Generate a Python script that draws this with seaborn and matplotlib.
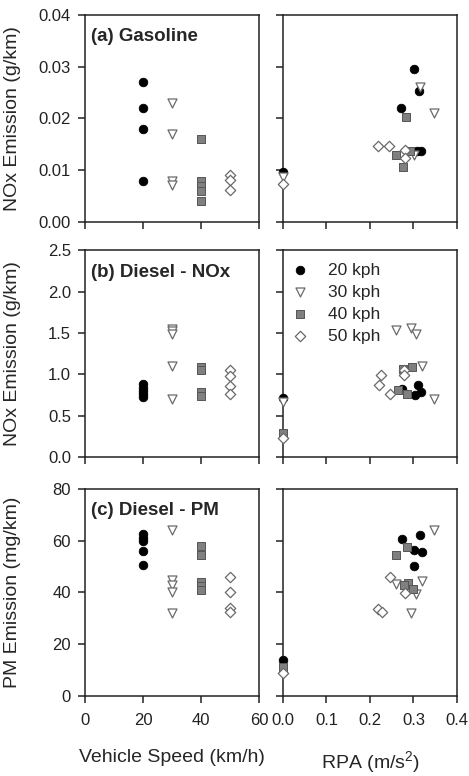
import matplotlib
matplotlib.use("Agg")
import matplotlib.pyplot as plt
import seaborn as sns

# ---- data ----
speeds = [20, 30, 40, 50]
labels = ["20 kph", "30 kph", "40 kph", "50 kph"]

# (a) gasoline NOx (g/km) vs vehicle speed
gas_20 = [0.027, 0.022, 0.018, 0.008]
gas_30 = [0.023, 0.017, 0.008, 0.0071]
gas_40 = [0.016, 0.008, 0.007, 0.006, 0.004]
gas_50 = [0.0091, 0.0081, 0.0062]

# (a) gasoline NOx vs RPA
gas_rpa_20 = [0.0, 0.271, 0.301, 0.313, 0.307, 0.317]
gas_nox_20 = [0.0097, 0.022, 0.0295, 0.0253, 0.0138, 0.0138]
gas_rpa_30 = [0.0, 0.315, 0.346, 0.302]
gas_nox_30 = [0.0087, 0.026, 0.021, 0.013]
gas_rpa_40 = [0.282, 0.26, 0.275, 0.292]
gas_nox_40 = [0.0203, 0.013, 0.0106, 0.0138]
gas_rpa_50 = [0.0, 0.219, 0.244, 0.28, 0.28]
gas_nox_50 = [0.0073, 0.0146, 0.0146, 0.0139, 0.0124]

# (b) diesel NOx (g/km) vs vehicle speed
dnox_20 = [0.88, 0.84, 0.80, 0.76, 0.73]
dnox_30 = [1.55, 1.52, 1.49, 1.10, 0.70]
dnox_40 = [1.09, 1.06, 0.79, 0.74]
dnox_50 = [1.05, 0.98, 0.86, 0.76]

# (b) diesel NOx vs RPA
dnox_rpa_20 = [0.0, 0.274, 0.311, 0.317, 0.303]
dnox_val_20 = [0.72, 0.82, 0.87, 0.79, 0.75]
dnox_rpa_30 = [0.0, 0.26, 0.294, 0.305, 0.319, 0.347]
dnox_val_30 = [0.67, 1.54, 1.56, 1.49, 1.10, 0.70]
dnox_rpa_40 = [0.0, 0.277, 0.296, 0.265, 0.284]
dnox_val_40 = [0.29, 1.07, 1.09, 0.81, 0.77]
dnox_rpa_50 = [0.0, 0.225, 0.221, 0.247, 0.279, 0.279]
dnox_val_50 = [0.23, 0.99, 0.87, 0.77, 1.05, 0.99]

# (c) diesel PM (mg/km) vs vehicle speed
pm_20 = [62.5, 61.0, 60.0, 56.0, 50.5]
pm_30 = [64.0, 45.0, 43.0, 40.0, 32.0]
pm_40 = [58.0, 54.5, 44.0, 42.5, 41.0]
pm_50 = [46.0, 40.0, 34.0, 32.5]

# (c) diesel PM vs RPA
pm_rpa_20 = [0.0, 0.273, 0.315, 0.302, 0.319, 0.302]
pm_val_20 = [13.9, 60.6, 62.4, 56.4, 55.7, 50.3]
pm_rpa_30 = [0.347, 0.319, 0.26, 0.305, 0.294]
pm_val_30 = [64.1, 44.5, 43.2, 39.6, 31.9]
pm_rpa_40 = [0.0, 0.284, 0.26, 0.288, 0.279, 0.298]
pm_val_40 = [11.3, 57.6, 54.4, 43.8, 42.9, 41.2]
pm_rpa_50 = [0.0, 0.246, 0.28, 0.219, 0.228]
pm_val_50 = [9.0, 45.8, 39.9, 33.8, 32.3]

# marker styles per speed class
styles = [
    dict(marker="o", s=38, color="black", edgecolor="black", linewidth=0.6),
    dict(marker="v", s=42, color="white", edgecolor="#6a6a6a", linewidth=0.9),
    dict(marker="s", s=30, color="#808080", edgecolor="#555555", linewidth=0.7),
    dict(marker="D", s=28, color="white", edgecolor="#6a6a6a", linewidth=0.9),
]


def draw(ax, xs, ys, with_label=False):
    for i, (x, y) in enumerate(zip(xs, ys)):
        if not isinstance(x, list):
            x = [x] * len(y)
        kw = dict(styles[i])
        if with_label:
            kw["label"] = labels[i]
        sns.scatterplot(x=x, y=y, ax=ax, legend=False, zorder=3,
                        clip_on=False, **kw)


sns.set_style("ticks")
plt.rcParams["font.family"] = ["Liberation Sans", "DejaVu Sans"]
plt.rcParams["mathtext.default"] = "regular"
plt.rcParams["axes.edgecolor"] = "#222222"
plt.rcParams["axes.linewidth"] = 1.1

fig = plt.figure(figsize=(4.69, 7.76), dpi=100)

lx, rx, w, h = 0.1812, 0.6034, 0.371, 0.2668
rows = [0.7139, 0.4107, 0.1031]

panels = [
    dict(left=[gas_20, gas_30, gas_40, gas_50],
         right=([gas_rpa_20, gas_rpa_30, gas_rpa_40, gas_rpa_50],
                [gas_nox_20, gas_nox_30, gas_nox_40, gas_nox_50]),
         ylim=(0, 0.04), yticks=[0, 0.01, 0.02, 0.03, 0.04], fmt="{:.2f}",
         ylabel="NOx Emission (g/km)", title="(a) Gasoline"),
    dict(left=[dnox_20, dnox_30, dnox_40, dnox_50],
         right=([dnox_rpa_20, dnox_rpa_30, dnox_rpa_40, dnox_rpa_50],
                [dnox_val_20, dnox_val_30, dnox_val_40, dnox_val_50]),
         ylim=(0, 2.5), yticks=[0, 0.5, 1.0, 1.5, 2.0, 2.5], fmt="{:.1f}",
         ylabel="NOx Emission (g/km)", title="(b) Diesel - NOx"),
    dict(left=[pm_20, pm_30, pm_40, pm_50],
         right=([pm_rpa_20, pm_rpa_30, pm_rpa_40, pm_rpa_50],
                [pm_val_20, pm_val_30, pm_val_40, pm_val_50]),
         ylim=(0, 80), yticks=[0, 20, 40, 60, 80], fmt="{:.0f}",
         ylabel="PM Emission (mg/km)", title="(c) Diesel - PM"),
]

for r, p in enumerate(panels):
    axl = fig.add_axes([lx, rows[r], w, h])
    axr = fig.add_axes([rx, rows[r], w, h])

    draw(axl, speeds, p["left"])
    draw(axr, p["right"][0], p["right"][1], with_label=(r == 1))

    for ax in (axl, axr):
        ax.set_ylim(*p["ylim"])
        ax.set_yticks(p["yticks"])
        for s in ax.spines.values():
            s.set_visible(True)
        ax.tick_params(direction="out", length=5, width=1.1, labelsize=12,
                       pad=5, colors="#222222", top=False, right=False)
        ax.tick_params(axis="x", pad=7)
        ax.set_xlabel("")
        ax.set_ylabel("")

    axl.set_xlim(0, 60)
    axl.set_xticks([0, 20, 40, 60])
    axr.set_xlim(0, 0.4)
    axr.set_xticks([0, 0.1, 0.2, 0.3, 0.4])

    axl.set_yticklabels([p["fmt"].format(v) for v in p["yticks"]])
    axr.set_yticklabels([])
    axl.set_ylabel(p["ylabel"], fontsize=14)
    axl.yaxis.set_label_coords(-0.37, 0.5)
    axl.text(0.035, 0.935, p["title"], transform=axl.transAxes,
             fontsize=13.5, fontweight="bold", va="top", ha="left")

    if r < 2:
        axl.set_xticklabels([])
        axr.set_xticklabels([])
    else:
        axl.set_xticklabels(["0", "20", "40", "60"])
        axr.set_xticklabels(["0.0", "0.1", "0.2", "0.3", "0.4"])
        axl.set_xlabel("Vehicle Speed (km/h)", fontsize=14)
        axr.set_xlabel("RPA (m/s$^2$)", fontsize=14)
        axl.xaxis.set_label_coords(0.5, -0.255)
        axr.xaxis.set_label_coords(0.5, -0.255)

    if r == 1:
        axr.legend(loc="upper left", bbox_to_anchor=(0.0, 0.975), frameon=False,
                   fontsize=12.5, handletextpad=1.0, labelspacing=0.4,
                   borderaxespad=0, handlelength=1.2)

fig.savefig("out.png", dpi=100)
